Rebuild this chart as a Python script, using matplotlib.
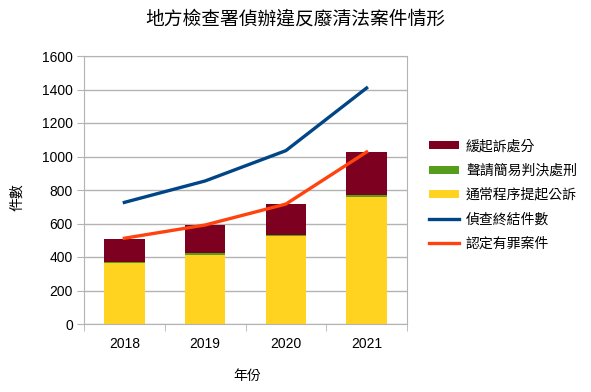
import matplotlib.pyplot as plt
import numpy as np

plt.rcParams['font.family'] = ['Liberation Sans', 'Noto Sans CJK TC', 'DejaVu Sans']

# Data
years = ["2018", "2019", "2020", "2021"]
public_prosecution = [364, 414, 527, 758]   # 通常程序提起公訴
summary_judgment = [8, 10, 6, 12]           # 聲請簡易判決處刑
deferred = [135, 167, 183, 257]             # 緩起訴處分
closed_cases = [726, 854, 1035, 1409]       # 偵查終結件數
convicted = [512, 591, 716, 1027]           # 認定有罪案件

fig = plt.figure(figsize=(5.91, 3.92), dpi=100)
ax = fig.add_axes([84 / 591, 1 - 324 / 392, 323 / 591, 268 / 392])

x = np.arange(len(years))
w = 0.5
b1 = ax.bar(x, public_prosecution, w, color="#FFD320", label="通常程序提起公訴", zorder=2)
bottom2 = np.array(public_prosecution)
b2 = ax.bar(x, summary_judgment, w, bottom=bottom2, color="#579D1C", label="聲請簡易判決處刑", zorder=2)
bottom3 = bottom2 + np.array(summary_judgment)
b3 = ax.bar(x, deferred, w, bottom=bottom3, color="#7E0021", label="緩起訴處分", zorder=2)
l1, = ax.plot(x, closed_cases, color="#004586", lw=2.4, label="偵查終結件數", zorder=3)
l2, = ax.plot(x, convicted, color="#FF420E", lw=2.4, label="認定有罪案件", zorder=3)

ax.set_xlim(-0.5, 3.5)
ax.set_ylim(0, 1600)
ax.set_yticks(np.arange(0, 1601, 200))
ax.set_xticks(x)
ax.set_xticklabels(years, fontsize=10)
ax.set_xticks(np.arange(-0.5, 3.6, 1), minor=True)
ax.tick_params(axis="x", which="major", length=0, pad=9)
ax.tick_params(axis="x", which="minor", length=5, color="#B3B3B3", direction="out")
ax.tick_params(axis="y", length=5, color="#B3B3B3", labelsize=10, pad=3)
ax.grid(axis="y", color="#B3B3B3", lw=1, zorder=0)
for s in ax.spines.values():
    s.set_color("#B3B3B3")

fig.text(247 / 591, 1 - 376 / 392, "年份", fontsize=10, ha="center", va="center")
fig.text(17 / 591, 1 - 197 / 392, "件數", fontsize=10, ha="center", va="center",
         rotation=90)
fig.text(295 / 591, 1 - 20 / 392, "地方檢查署偵辦違反廢清法案件情形", fontsize=13.5,
         ha="center", va="center")

ax.legend([b3, b2, b1, l1, l2],
          ["緩起訴處分", "聲請簡易判決處刑", "通常程序提起公訴", "偵查終結件數", "認定有罪案件"],
          loc="center left", bbox_to_anchor=(416 / 591, 1 - 195 / 392),
          bbox_transform=fig.transFigure, frameon=False, fontsize=10,
          handlelength=2.2, handleheight=0.5, labelspacing=0.75, handletextpad=0.5)

fig.savefig("out.png", dpi=100)
